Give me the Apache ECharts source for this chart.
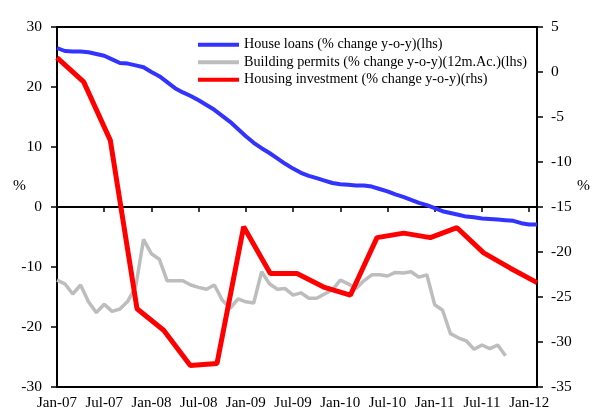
<!DOCTYPE html>
<html>
<head>
<meta charset="utf-8">
<script src="https://cdn.jsdelivr.net/npm/echarts@6/dist/echarts.min.js"></script>
<style>
  html, body { margin: 0; padding: 0; background: #fff; }
  #chart { width: 596px; height: 416px; }
</style>
</head>
<body>
<div id="chart"></div>
<script>
// months Jan-07 .. Feb-12 (monthly axis), labels every 6 months
const monthNames = ['Jan', 'Feb', 'Mar', 'Apr', 'May', 'Jun', 'Jul', 'Aug', 'Sep', 'Oct', 'Nov', 'Dec'];
const months = [];
for (let y = 7; y <= 12; y++) {
  for (let m = 0; m < 12; m++) {
    if (y === 12 && m > 1) break;
    months.push(monthNames[m] + '-' + String(y).padStart(2, '0'));
  }
}
// quarterly points of housing investment, spread across the full width
const quarters = ['Q1-07', 'Q2-07', 'Q3-07', 'Q4-07', 'Q1-08', 'Q2-08', 'Q3-08', 'Q4-08',
  'Q1-09', 'Q2-09', 'Q3-09', 'Q4-09', 'Q1-10', 'Q2-10', 'Q3-10', 'Q4-10',
  'Q1-11', 'Q2-11', 'Q3-11'];

const houseLoans = [
  26.5, 26.0, 25.9, 25.9, 25.8, 25.5, 25.2, 24.6, 24.0, 23.9, 23.6, 23.3,
  22.5, 21.8, 20.8, 19.8, 19.1, 18.5, 17.8, 17.0, 16.2, 15.2, 14.2, 13.0,
  11.8, 10.7, 9.8, 9.0, 8.1, 7.2, 6.4, 5.7, 5.2, 4.8, 4.4, 4.0,
  3.8, 3.7, 3.6, 3.6, 3.4, 3.0, 2.6, 2.1, 1.7, 1.2, 0.7, 0.3,
  -0.2, -0.7, -1.0, -1.3, -1.6, -1.7, -1.9, -2.0, -2.1, -2.2, -2.3, -2.7,
  -2.9, -2.9
];
const buildingPermits = [
  -12.2, -12.8, -14.5, -13.0, -15.8, -17.6, -16.2, -17.4, -17.0, -15.7, -13.3, -5.4,
  -7.8, -8.7, -12.3, -12.3, -12.3, -13.0, -13.4, -13.7, -13.0, -15.5, -16.9, -15.3,
  -15.8, -16.0, -10.8, -12.8, -13.7, -13.6, -14.7, -14.3, -15.2, -15.2, -14.5, -13.8,
  -12.2, -12.8, -13.6, -12.3, -11.3, -11.3, -11.5, -10.9, -11.0, -10.8, -11.7, -11.3,
  -16.3, -17.2, -21.1, -21.8, -22.3, -23.7, -23.0, -23.6, -23.0, -24.8
];
const housingInvestment = [
  1.6, -1.1, -7.6, -26.3, -28.7, -32.6, -32.4, -17.2, -22.4, -22.4,
  -23.9, -24.8, -18.4, -17.9, -18.4, -17.3, -20.1, -21.8, -23.4
];

const seriesNames = [
  'House loans (% change y-o-y)(lhs)',
  'Building permits (% change y-o-y)(12m.Ac.)(lhs)',
  'Housing investment (% change y-o-y)(rhs)'
];

const font = 'Liberation Serif';
const black = '#000';

const chart = echarts.init(document.getElementById('chart'), null, { renderer: 'canvas' });

chart.setOption({
  backgroundColor: '#fff',
  animation: false,
  textStyle: { fontFamily: font, color: black },
  grid: {
    left: 57, right: 59, top: 27, bottom: 29,
    show: true, borderColor: black, borderWidth: 2, backgroundColor: 'transparent'
  },
  legend: {
    orient: 'vertical',
    left: 193, top: 31,
    itemWidth: 41, itemHeight: 4, itemGap: 0,
    icon: 'rect',
    textStyle: { fontFamily: font, fontSize: 14.2, color: black, lineHeight: 17.5 },
    data: seriesNames
  },
  xAxis: [
    {
      // axis line + ticks drawn on the zero line of the lhs axis
      type: 'category', data: months, boundaryGap: false, position: 'bottom',
      axisLine: { onZero: true, lineStyle: { color: black, width: 2 } },
      axisTick: { interval: 5, length: 5, lineStyle: { color: black, width: 1.5 } },
      axisLabel: { show: false },
      splitLine: { show: false }
    },
    {
      // labels at the bottom of the plot
      type: 'category', data: months, boundaryGap: false, position: 'bottom',
      axisLine: { show: false, onZero: false },
      axisTick: { show: false },
      axisLabel: { interval: 5, margin: 9, fontFamily: font, fontSize: 15, color: black },
      splitLine: { show: false }
    },
    {
      type: 'category', data: quarters, boundaryGap: false, show: false
    }
  ],
  yAxis: [
    {
      type: 'value', min: -30, max: 30, interval: 10, position: 'left',
      axisLine: { show: true, lineStyle: { color: black, width: 2 } },
      axisTick: { show: true, length: 6, lineStyle: { color: black, width: 1.5 } },
      axisLabel: { margin: 15, fontFamily: font, fontSize: 15.5, color: black },
      splitLine: { show: false }
    },
    {
      type: 'value', min: -35, max: 5, interval: 5, position: 'right',
      axisLine: { show: true, lineStyle: { color: black, width: 2 } },
      axisTick: { show: true, length: 6, lineStyle: { color: black, width: 1.5 } },
      axisLabel: { margin: 14, fontFamily: font, fontSize: 15.5, color: black },
      splitLine: { show: false }
    }
  ],
  graphic: [
    { type: 'text', left: 13, top: 178, style: { text: '%', font: '15.5px "Liberation Serif"', fill: black } },
    { type: 'text', left: 577, top: 178, style: { text: '%', font: '15.5px "Liberation Serif"', fill: black } }
  ],
  series: [
    {
      name: seriesNames[0], type: 'line', data: houseLoans,
      xAxisIndex: 0, yAxisIndex: 0, showSymbol: false, z: 3,
      lineStyle: { color: '#3333ff', width: 4 }, itemStyle: { color: '#3333ff' }
    },
    {
      name: seriesNames[1], type: 'line', data: buildingPermits,
      xAxisIndex: 0, yAxisIndex: 0, showSymbol: false, z: 2,
      lineStyle: { color: '#bdbdbd', width: 3.5 }, itemStyle: { color: '#bdbdbd' }
    },
    {
      name: seriesNames[2], type: 'line', data: housingInvestment,
      xAxisIndex: 2, yAxisIndex: 1, showSymbol: false, z: 4,
      lineStyle: { color: '#ff0000', width: 5 }, itemStyle: { color: '#ff0000' }
    }
  ]
});
</script>
</body>
</html>
